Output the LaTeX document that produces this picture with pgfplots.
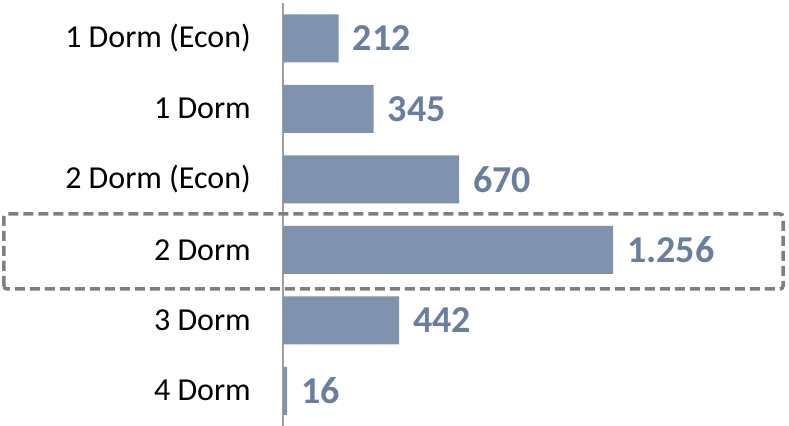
\documentclass[border=0pt]{standalone}
\usepackage{pgfplots}
\pgfplotsset{compat=1.18}
\usepackage{fontspec}
\setmainfont{Carlito}
\definecolor{barblue}{RGB}{127,147,174}
\definecolor{lblblue}{RGB}{106,126,158}
\definecolor{boxgray}{RGB}{127,127,127}
\definecolor{axgray}{RGB}{160,160,160}
\begin{document}
\begin{tikzpicture}
\begin{axis}[
    at={(0,0)}, anchor=south west,
    scale only axis,
    width=499.3bp, height=423bp,
    xmin=0, xmax=1900,
    ymin=-0.5, ymax=5.5,
    y dir=reverse,
    xbar, bar width=48bp,
    axis x line=none,
    axis y line*=left,
    y axis line style={-, draw=axgray, line width=1.5bp},
    ytick={0,...,5},
    yticklabels={1 Dorm (Econ),1 Dorm,2 Dorm (Econ),2 Dorm,3 Dorm,4 Dorm},
    major tick length=0pt,
    yticklabel style={font=\fontsize{32bp}{38bp}\selectfont, inner sep=0pt, xshift=-32bp, text=black},
    point meta=explicit symbolic,
    nodes near coords={\pgfplotspointmeta},
    nodes near coords style={font=\fontsize{38bp}{45bp}\selectfont\bfseries, text=lblblue, anchor=west, inner sep=0pt, xshift=14bp},
    clip=false,
]
\addplot[fill=barblue, draw=none] coordinates {
    (212,0) [212]
    (345,1) [345]
    (670,2) [670]
    (1256,3) [1.256]
    (442,4) [442]
    (16,5) [16]
};
\end{axis}
% highlight frame round the 2 Dorm row
\draw[boxgray, line width=3.5bp, dash pattern=on 10bp off 5bp, rounded corners=3bp]
    (-279bp,137bp) rectangle (500bp,212bp);
\pgfresetboundingbox
\path[use as bounding box] (-283bp,0bp) rectangle (506bp,426bp);
\end{tikzpicture}
\end{document}
